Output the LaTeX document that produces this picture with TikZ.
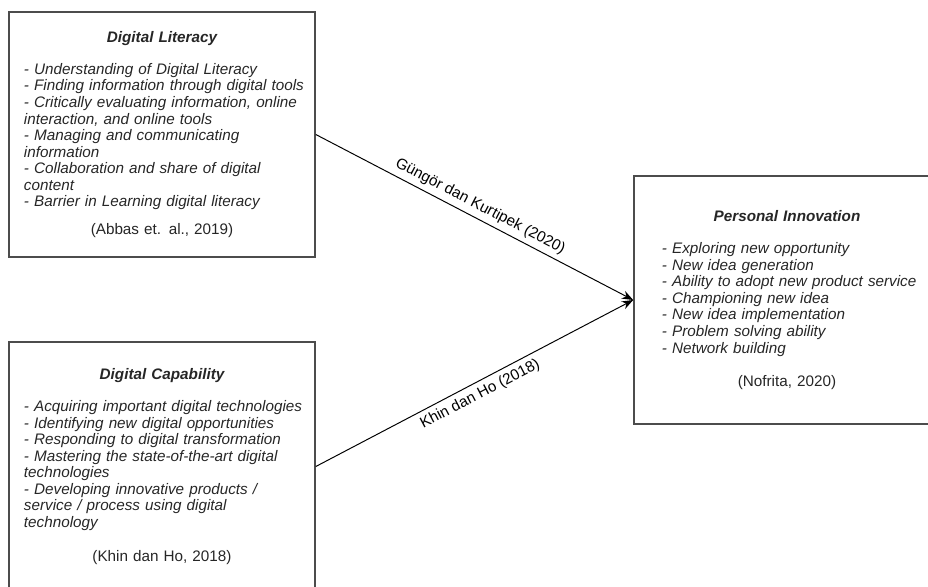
\documentclass[tikz,border=0pt]{standalone}
\usepackage{fontspec}
\setmainfont{Liberation Sans}
\usetikzlibrary{arrows.meta}
\setlength{\parindent}{0pt}
\hyphenpenalty=10000
\exhyphenpenalty=10000

% Title and source lines inside the boxes
\newcommand{\boxtitle}[1]{\makebox[\linewidth]{\bfseries\itshape #1}}
\newcommand{\boxsource}[1]{\makebox[\linewidth]{\upshape #1}}

\tikzset{
  varbox/.style={draw=black!70, line width=1.1pt, minimum width=7.65cm,
    align=left, text=black!85, font=\fontsize{10.85}{11.75}\selectfont\itshape},
  relarrow/.style={-{Stealth[length=8pt,width=6pt]}, line width=0.7pt},
  rellabel/.style={font=\fontsize{10.85}{11.75}\selectfont, sloped, midway}
}

\begin{document}
\begin{tikzpicture}[x=0.025cm, y=-0.025cm]

% Frame of the picture
\useasboundingbox (0,0) rectangle (928,586);
\clip (0,0) rectangle (928,586);

% Left side: the two variables
\node[varbox, minimum height=6.125cm, text width=6.9cm] (lit) at (162,134.5) {%
    \boxtitle{Digital Literacy}\\[11pt]
    - Understanding of Digital Literacy\\
    \mbox{- Finding information through digital tools}\\
    - Critically evaluating information, online\\
    interaction, and online tools\\
    - Managing and communicating\\
    information\\
    - Collaboration and share of digital\\
    content\\
    - Barrier in Learning digital literacy\\[8pt]
    \boxsource{(Abbas et. al., 2019)}};

\node[varbox, minimum height=6.225cm, text width=6.9cm] (cap) at (162,466.5) {%
    \boxtitle{Digital Capability}\\[11pt]
    \mbox{- Acquiring important digital technologies}\\
    - Identifying new digital opportunities\\
    - Responding to digital transformation\\
    - Mastering the state-of-the-art digital\\
    technologies\\
    - Developing innovative products /\\
    service / process using digital\\
    technology\\[12.4pt]
    \boxsource{(Khin dan Ho, 2018)}};

% Right side: the outcome
\node[varbox, minimum height=6.2cm, text width=6.25cm] (inno) at (787,300) {%
    \boxtitle{Personal Innovation}\\[11pt]
    - Exploring new opportunity\\
    - New idea generation\\
    \mbox{- Ability to adopt new product service}\\
    - Championing new idea\\
    - New idea implementation\\
    - Problem solving ability\\
    - Network building\\[11.7pt]
    \boxsource{(Nofrita, 2020)}};

% Relations
\draw[relarrow] (lit.east) -- node[rellabel, above] {Güngör dan Kurtipek (2020)} (inno.west);
\draw[relarrow] (cap.east) -- node[rellabel, below] {Khin dan Ho (2018)} (inno.west);

\end{tikzpicture}
\end{document}
